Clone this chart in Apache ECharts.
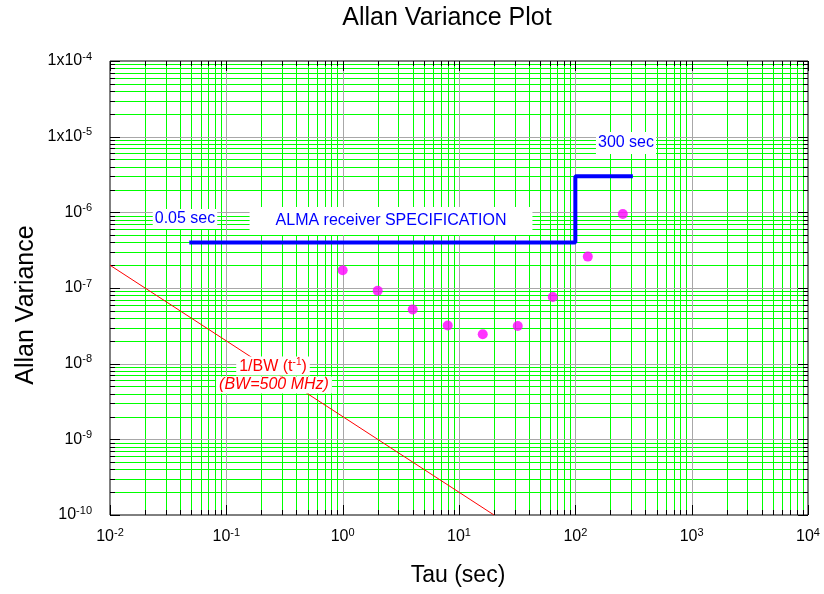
<!DOCTYPE html>
<html>
<head>
<meta charset="utf-8">
<script src="https://cdn.jsdelivr.net/npm/echarts@6/dist/echarts.min.js"></script>
<style>
  html, body { margin: 0; padding: 0; background: #fff; }
  #chart { width: 824px; height: 594px; }
</style>
</head>
<body>
<div id="chart"></div>
<script>
// Measured Allan variance (magenta dots)
const tau = [1, 2, 4, 8, 16, 32, 64, 128, 256];
const allanVar = [1.72e-7, 9.2e-8, 5.2e-8, 3.2e-8, 2.45e-8, 3.15e-8, 7.6e-8, 2.6e-7, 9.5e-7];

// ALMA receiver specification (blue step line)
const specTau = [0.05, 100, 100, 300];
const specVar = [4e-7, 4e-7, 3e-6, 3e-6];

// Radiometer limit 1/(BW*t) for BW = 500 MHz (red line)
const bwTau = [0.01, 20];
const bwVar = [2e-7, 1e-10];

// Decade exponents and their tick labels
const xTickExps = [-2, -1, 0, 1, 2, 3, 4];
const xTickLabels = ['10{s|-2}', '10{s|-1}', '10{s|0}', '10{s|1}', '10{s|2}', '10{s|3}', '10{s|4}'];
const yTickExps = [-10, -9, -8, -7, -6, -5, -4];
const yTickLabels = ['10{s|-10}', '10{s|-9}', '10{s|-8}', '10{s|-7}', '10{s|-6}', '1x10{s|-5}', '1x10{s|-4}'];
const minorSteps = [2, 3, 4, 5, 6, 7, 8, 9];

const FONT = 'Liberation Sans, Arial, sans-serif';
const MAJOR_GRID = '#a8a8a8';
const MINOR_GRID = '#00ff00';

// Decade and in-between values along one log axis
function gridValues(exps) {
  const out = [];
  exps.forEach((e, i) => {
    const d = Math.pow(10, e);
    out.push({ v: d, major: true });
    if (i < exps.length - 1) minorSteps.forEach(m => out.push({ v: m * d, major: false }));
  });
  return out;
}
const xGrid = gridValues(xTickExps);
const yGrid = gridValues(yTickExps);

// Whole log-log grid as three paths: minor lines, decade lines, inward ticks on all four sides
function renderGrid(params, api) {
  const cs = params.coordSys;
  const left = cs.x, right = cs.x + cs.width, top = cs.y, bottom = cs.y + cs.height;
  let minorD = '', majorD = '', tickD = '';
  xGrid.forEach(g => {
    const x = Math.round(api.coord([g.v, 1e-7])[0]) + 0.5;
    const len = g.major ? 10 : 5;
    if (x > left + 1 && x < right - 1) {
      const seg = 'M' + x + ' ' + top + 'L' + x + ' ' + bottom;
      if (g.major) majorD += seg; else minorD += seg;
    }
    tickD += 'M' + x + ' ' + bottom + 'L' + x + ' ' + (bottom - len);
    tickD += 'M' + x + ' ' + top + 'L' + x + ' ' + (top + len);
  });
  yGrid.forEach(g => {
    const y = Math.round(api.coord([1, g.v])[1]) + 0.5;
    const len = g.major ? 10 : 5;
    if (y > top + 1 && y < bottom - 1) {
      const seg = 'M' + left + ' ' + y + 'L' + right + ' ' + y;
      if (g.major) majorD += seg; else minorD += seg;
    }
    tickD += 'M' + left + ' ' + y + 'L' + (left + len) + ' ' + y;
    tickD += 'M' + right + ' ' + y + 'L' + (right - len) + ' ' + y;
  });
  return {
    type: 'group',
    children: [
      { type: 'path', shape: { pathData: minorD }, style: { stroke: MINOR_GRID, fill: null, lineWidth: 1 }, z2: 1 },
      { type: 'path', shape: { pathData: majorD }, style: { stroke: MAJOR_GRID, fill: null, lineWidth: 1 }, z2: 2 },
      { type: 'path', shape: { pathData: tickD }, style: { stroke: '#000000', fill: null, lineWidth: 1 }, z2: 3 }
    ]
  };
}

function expOf(v) { return Math.round(Math.log10(v)); }
function richLabel(s) { return '{b|' + s.replace('{s|', '}{s|'); }

const supRich = {
  b: { fontSize: 16, fontFamily: FONT, color: '#000', lineHeight: 20 },
  s: { fontSize: 11, fontFamily: FONT, color: '#000', verticalAlign: 'top', lineHeight: 11 }
};

const chart = echarts.init(document.getElementById('chart'), null, { renderer: 'canvas' });

chart.setOption({
  animation: false,
  backgroundColor: '#fff',
  grid: {
    left: 110, top: 61, width: 698, height: 454,
    containLabel: false, outerBoundsMode: 'none',
    show: true, borderColor: '#000', borderWidth: 1, backgroundColor: 'transparent'
  },
  xAxis: {
    type: 'log', logBase: 10, min: 0.01, max: 10000, splitNumber: 6,
    axisLine: { show: false }, axisTick: { show: false }, splitLine: { show: false },
    minorTick: { show: false }, minorSplitLine: { show: false },
    axisLabel: {
      margin: 12,
      formatter: v => {
        const i = xTickExps.indexOf(expOf(v));
        return i < 0 ? '' : richLabel(xTickLabels[i]);
      },
      rich: supRich
    }
  },
  yAxis: {
    type: 'log', logBase: 10, min: 1e-10, max: 1e-4, splitNumber: 6,
    axisLine: { show: false }, axisTick: { show: false }, splitLine: { show: false },
    minorTick: { show: false }, minorSplitLine: { show: false },
    axisLabel: {
      margin: 18,
      formatter: v => {
        const i = yTickExps.indexOf(expOf(v));
        return i < 0 ? '' : richLabel(yTickLabels[i]);
      },
      rich: supRich
    }
  },
  series: [
    {
      type: 'custom', name: 'grid', silent: true, z: 1,
      renderItem: renderGrid,
      data: [[1, 1e-7]],
      clip: false
    },
    {
      type: 'line', name: '1/BW', z: 3, symbol: 'none',
      lineStyle: { color: '#ff0000', width: 1 },
      data: bwTau.map((t, i) => [t, bwVar[i]])
    },
    {
      type: 'line', name: 'ALMA receiver SPECIFICATION', z: 4, symbol: 'none',
      lineStyle: { color: '#0000ff', width: 4, cap: 'square' },
      data: specTau.map((t, i) => [t, specVar[i]])
    },
    {
      type: 'scatter', name: 'Allan variance', z: 5,
      symbol: 'circle', symbolSize: 10,
      itemStyle: { color: '#ff00ff' },
      data: tau.map((t, i) => [t, allanVar[i]])
    }
  ],
  graphic: [
    { type: 'text', x: 447, y: 18, z: 100, style: { text: 'Allan Variance Plot', fontSize: 25, fontFamily: FONT, fill: '#000', align: 'center', verticalAlign: 'middle' } },
    { type: 'text', x: 458, y: 576, z: 100, style: { text: 'Tau (sec)', fontSize: 23, fontFamily: FONT, fill: '#000', align: 'center', verticalAlign: 'middle' } },
    { type: 'text', x: 26, y: 305, rotation: Math.PI / 2, z: 100, style: { text: 'Allan Variance', fontSize: 25, fontFamily: FONT, fill: '#000', align: 'center', verticalAlign: 'middle' } },
    { type: 'text', x: 185, y: 219, z: 100, style: { text: '0.05 sec', fontSize: 16, fontFamily: FONT, fill: '#0000ff', align: 'center', verticalAlign: 'middle', backgroundColor: '#fff', padding: [2, 2, 2, 2] } },
    { type: 'text', x: 391, y: 221, z: 100, style: { text: 'ALMA receiver SPECIFICATION', fontSize: 16, fontFamily: FONT, fill: '#0000ff', align: 'center', verticalAlign: 'middle', backgroundColor: '#fff', padding: [5, 26, 7, 26] } },
    { type: 'text', x: 626, y: 143, z: 100, style: { text: '300 sec', fontSize: 16, fontFamily: FONT, fill: '#0000ff', align: 'center', verticalAlign: 'middle', backgroundColor: '#fff', padding: [3, 2, 3, 2] } },
    { type: 'text', x: 273, y: 366, z: 100, style: {
        text: '{r|1/BW (t}{rs|-1}{r|)}', align: 'center', verticalAlign: 'middle', backgroundColor: '#fff', padding: [1, 3, 0, 3],
        rich: {
          r: { fontSize: 16, fontFamily: FONT, fill: '#ff0000', color: '#ff0000', lineHeight: 18 },
          rs: { fontSize: 10, fontFamily: FONT, fill: '#ff0000', color: '#ff0000', verticalAlign: 'top', lineHeight: 10 }
        } } },
    { type: 'text', x: 274, y: 385, z: 100, style: { text: '(BW=500 MHz)', fontSize: 16, fontStyle: 'italic', fontFamily: FONT, fill: '#ff0000', align: 'center', verticalAlign: 'middle', backgroundColor: '#fff', padding: [0, 3, 1, 3] } }
  ]
});
</script>
</body>
</html>
